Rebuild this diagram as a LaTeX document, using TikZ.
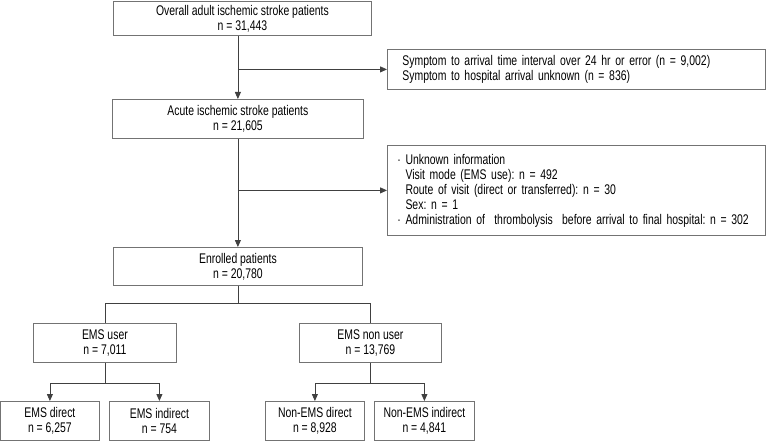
\documentclass[tikz,border=0pt]{standalone}
\usepackage{fontspec}
\setmainfont{Liberation Sans}[FakeStretch=0.745]
\usetikzlibrary{arrows.meta}

\tikzset{
	box/.style = {draw = black!55, line width = 0.8pt, anchor = north west,
		minimum height = 39pt, align = center, inner sep = 0pt},
	exbox/.style = {draw = black!55, line width = 0.8pt, anchor = north west,
		align = left, inner ysep = 0pt},
	line/.style = {draw = black!75, line width = 0.8pt},
	arr/.style = {line, -{Triangle[width = 6pt, length = 7pt]}},
}
\newcommand{\ind}{\phantom{\textperiodcentered\ }}
\frenchspacing

\begin{document}
\begin{tikzpicture}[x = 1pt, y = -1pt, font = \fontsize{14}{15}\selectfont]

\useasboundingbox (0, 0) rectangle (766, 441);

% main column
\node[box, minimum width = 258pt, minimum height = 34pt] (overall) at (113, 1)
	{Overall adult ischemic stroke patients\\ n = 31,443};
\node[box, minimum width = 251pt] (acute) at (112, 99)
	{Acute ischemic stroke patients\\ n = 21,605};
\node[box, minimum width = 249pt, minimum height = 38pt] (enrolled) at (113, 247)
	{Enrolled patients\\ n = 20,780};

% exclusions
\node[exbox, minimum width = 378pt, minimum height = 40pt, text width = 348pt, inner xsep = 15pt] (excl1) at (387, 49)
	{Symptom to arrival time interval over 24 hr or error (n = 9,002)\\
	 Symptom to hospital arrival unknown (n = 836)};
\node[exbox, minimum width = 378pt, minimum height = 90pt, text width = 358pt, inner xsep = 10pt] (excl2) at (387, 145)
	{\textperiodcentered\ Unknown information\\
	 \ind Visit mode (EMS use): n = 492\\
	 \ind Route of visit (direct or transferred): n = 30\\
	 \ind Sex: n = 1\\
	 \textperiodcentered\ Administration of\ \ thrombolysis\ \ before arrival to final hospital: n = 302};

% groups
\node[box, minimum width = 143pt] (emsuser) at (33, 323) {EMS user\\ n = 7,011};
\node[box, minimum width = 142pt] (emsnon) at (299, 323) {EMS non user\\ n = 13,769};

\node[box, minimum width = 99pt] (emsdir) at (0, 401) {EMS direct\\ n = 6,257};
\node[box, minimum width = 100pt] (emsind) at (109, 401) {EMS indirect\\ n = 754};
\node[box, minimum width = 99pt] (nemsdir) at (265, 401) {Non-EMS direct\\ n = 8,928};
\node[box, minimum width = 100pt] (nemsind) at (374, 401) {Non-EMS indirect\\ n = 4,841};

% connectors
\draw[arr] (overall.south -| acute.north) -- (acute.north);
\coordinate (split1) at (acute.north |- excl1.west);
\draw[arr] (split1) -- (excl1.west);

\draw[arr] (acute.south) -- (enrolled.north);
\coordinate (split2) at (enrolled.north |- excl2.west);
\draw[arr] (split2) -- (excl2.west);

\draw[line] (enrolled.south) -- ++(0, 18) -| (emsuser.north);
\draw[line] (enrolled.south) -- ++(0, 18) -| (emsnon.north);

\draw[arr] (emsuser.south) -- ++(0, 21) -| (emsdir.north);
\draw[arr] (emsuser.south) -- ++(0, 21) -| (emsind.north);
\draw[arr] (emsnon.south) -- ++(0, 21) -| (nemsdir.north);
\draw[arr] (emsnon.south) -- ++(0, 21) -| (nemsind.north);

\end{tikzpicture}
\end{document}
